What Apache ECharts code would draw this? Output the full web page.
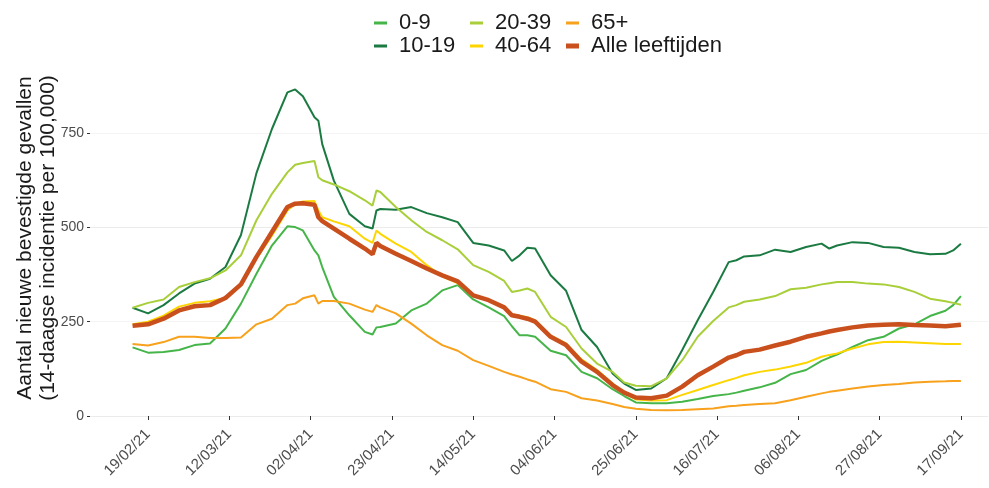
<!DOCTYPE html>
<html>
<head>
<meta charset="utf-8">
<script src="https://cdn.jsdelivr.net/npm/echarts@6/dist/echarts.min.js"></script>
<style>
  html, body { margin: 0; padding: 0; background: #fff; }
  #chart { width: 989px; height: 488px; }
</style>
</head>
<body>
<div id="chart"></div>
<script>
// sample dates (roughly every 4 days plus turning points)
const dates = [
  '2021-02-15','2021-02-19','2021-02-23','2021-02-27','2021-03-03','2021-03-07','2021-03-11','2021-03-15',
  '2021-03-19','2021-03-23','2021-03-27','2021-03-29','2021-03-31','2021-04-03','2021-04-04','2021-04-05',
  '2021-04-08','2021-04-12','2021-04-16','2021-04-18','2021-04-19','2021-04-20','2021-04-24','2021-04-28',
  '2021-05-02','2021-05-06','2021-05-10','2021-05-14','2021-05-18','2021-05-22','2021-05-24','2021-05-26',
  '2021-05-28','2021-05-30','2021-06-03','2021-06-07','2021-06-11','2021-06-15','2021-06-19','2021-06-22',
  '2021-06-25','2021-06-29','2021-07-03','2021-07-07','2021-07-11','2021-07-15','2021-07-19','2021-07-21',
  '2021-07-23','2021-07-27','2021-07-31','2021-08-04','2021-08-08','2021-08-12','2021-08-14','2021-08-16',
  '2021-08-20','2021-08-24','2021-08-28','2021-09-01','2021-09-05','2021-09-09','2021-09-13','2021-09-15',
  '2021-09-17'
];

const age0_9 = [182,168,170,175,188,192,232,298,377,452,503,501,492,439,426,395,316,267,223,216,235,236,
  245,280,298,333,347,309,288,265,238,214,214,210,173,161,117,100,71,53,36,34,34,38,45,53,58,62,67,76,88,
  111,122,146,155,163,183,201,210,232,243,265,279,294,318];
const age10_19 = [287,272,294,325,351,364,395,480,644,761,858,866,848,792,783,721,624,536,503,497,545,549,
  547,554,538,527,514,459,452,439,411,426,446,444,373,332,228,183,113,86,69,73,100,175,254,329,408,413,423,
  426,441,435,448,457,444,452,461,459,448,446,435,429,430,439,457];
const age20_39 = [287,300,309,342,355,365,386,426,519,589,646,666,671,676,633,625,614,596,572,558,598,594,
  554,519,488,466,442,400,382,358,329,333,338,329,263,236,179,139,117,89,80,79,100,148,210,252,288,294,303,
  309,318,336,340,349,352,355,355,351,349,342,329,311,304,300,295];
const age40_64 = [243,250,266,290,300,304,313,349,418,478,545,563,569,570,545,527,516,503,470,459,492,483,
  457,435,400,370,352,320,308,290,270,266,262,254,213,192,150,122,86,62,44,41,42,56,69,82,95,101,108,
  117,123,131,141,157,162,166,179,190,196,197,195,193,191,191,191];
const age65plus = [191,187,196,210,210,207,207,208,243,258,294,298,312,320,298,305,305,298,282,276,294,288,
  272,245,214,188,173,148,133,117,110,104,97,91,71,64,47,41,32,24,19,16,15,16,18,20,26,27,29,
  32,34,42,51,60,64,67,73,78,82,85,89,91,92,93,93];
const alleLeeftijden = [239,243,258,280,291,294,313,349,422,488,554,563,564,560,527,517,497,470,444,429,459,451,
  430,411,391,373,357,320,307,288,267,263,258,250,210,188,144,117,82,62,49,47,54,78,108,131,155,161,170,
  176,187,197,210,219,224,228,235,240,242,243,241,240,238,240,242];

const tickDates = ['2021-02-19','2021-03-12','2021-04-02','2021-04-23','2021-05-14','2021-06-04',
  '2021-06-25','2021-07-16','2021-08-06','2021-08-27','2021-09-17'];
const yTicks = [0, 250, 500, 750];

const seriesNames = ['0-9', '10-19', '20-39', '40-64', '65+', 'Alle leeftijden'];
const seriesValues = [age0_9, age10_19, age20_39, age40_64, age65plus, alleLeeftijden];
const COLOR = ['#45b549', '#1b7a42', '#a8cf3a', '#fdd500', '#f7a11c', '#c9501d'];

const ts = dates.map((d) => Date.parse(d));
const tickTs = tickDates.map((d) => Date.parse(d));

function fmtDate(v) {
  const d = new Date(v);
  const p = (n) => String(n).padStart(2, '0');
  return p(d.getUTCDate()) + '/' + p(d.getUTCMonth() + 1) + '/' + String(d.getUTCFullYear()).slice(2);
}

const thinKey = 'path://M0,0h13v3h-13z';
const thickKey = 'path://M0,0h13v5h-13z';

function legendBlock(left, names) {
  return {
    orient: 'vertical',
    left: left,
    top: 12,
    padding: 0,
    itemGap: 1,
    itemWidth: 13,
    itemHeight: 14,
    selectedMode: false,
    textStyle: { fontSize: 22, lineHeight: 20, color: '#1a1a1a', fontFamily: 'Liberation Sans', padding: [0, 0, 0, 7] },
    data: names.map((n) => ({ name: n, icon: n === 'Alle leeftijden' ? thickKey : thinKey })),
  };
}

const chart = echarts.init(document.getElementById('chart'), null, { renderer: 'canvas' });
chart.setOption({
  animation: false,
  backgroundColor: '#fff',
  textStyle: { fontFamily: 'Liberation Sans' },
  color: COLOR,
  legend: [
    legendBlock(374, ['0-9', '10-19']),
    legendBlock(470, ['20-39', '40-64']),
    legendBlock(566, ['65+', 'Alle leeftijden']),
  ],
  grid: { left: 90, right: 1, top: 86, bottom: 72, outerBoundsMode: 'none', containLabel: false },
  xAxis: {
    type: 'value',
    min: Date.parse('2021-02-04'),
    max: Date.parse('2021-09-24'),
    offset: 8,
    axisLine: { show: false },
    axisTick: { show: true, customValues: tickTs, length: 4, lineStyle: { color: '#333' } },
    axisLabel: {
      customValues: tickTs,
      rotate: 45,
      fontSize: 15,
      color: '#4d4d4d',
      margin: 8,
      formatter: (v) => fmtDate(v),
    },
    splitLine: { show: false },
  },
  yAxis: {
    type: 'value',
    min: 0,
    max: 875,
    interval: 125,
    name: 'Aantal nieuwe bevestigde gevallen\n(14-daagse incidentie per 100,000)',
    nameLocation: 'middle',
    nameRotate: 90,
    nameGap: 30,
    nameMoveOverlap: false,
    nameTextStyle: { fontSize: 21, lineHeight: 23, color: '#1a1a1a', fontFamily: 'Liberation Sans', padding: [0, 0, 0, 26] },
    axisLine: { show: false },
    axisTick: { show: true, customValues: yTicks, length: 3, lineStyle: { color: '#333' } },
    axisLabel: { customValues: yTicks, fontSize: 14, color: '#4d4d4d', margin: 6 },
    splitLine: { show: true, lineStyle: { color: ['#ebebeb', '#f4f4f4'], width: 1 } },
  },
  series: seriesNames.map((name, i) => ({
    name: name,
    type: 'line',
    showSymbol: false,
    symbol: 'none',
    smooth: false,
    data: seriesValues[i].map((v, j) => [ts[j], v]),
    lineStyle: { width: name === 'Alle leeftijden' ? 4.5 : 2, color: COLOR[i] },
    itemStyle: { color: COLOR[i] },
    z: 2 + i,
  })),
});
</script>
</body>
</html>
